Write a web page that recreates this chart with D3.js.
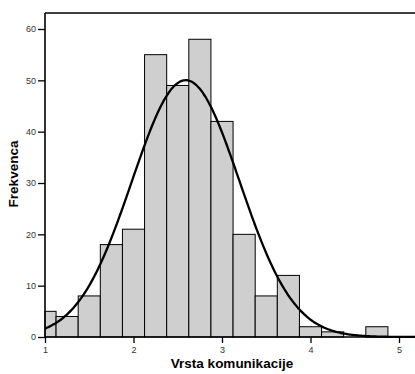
<!DOCTYPE html>
<html><head><meta charset="utf-8">
<script src="https://cdn.jsdelivr.net/npm/d3@7"></script>
<style>body{margin:0;background:#fff}svg{display:block;font-family:"Liberation Sans",Arial,sans-serif}</style>
</head><body>
<script>
const binCenters = [1.0,1.25,1.5,1.75,2.0,2.25,2.5,2.75,3.0,3.25,3.5,3.75,4.0,4.25,4.5,4.75];
const counts     = [5,4,8,18,21,55,49,58,42,20,8,12,2,1,0,2];
const binWidth = 0.25;
const fitMean = 2.59, fitSd = 0.608, fitN = 305;
const xTicks = [1,2,3,4,5];
const yTicks = [0,10,20,30,40,50,60];

const W=415,H=374;
const svg=d3.select("body").append("svg").attr("width",W).attr("height",H);
const x=d3.scaleLinear().domain([1,5]).range([45,399]);
const y=d3.scaleLinear().domain([0,60]).range([337,29]);
const xMin=1, xMax=x.invert(W);

// bars
svg.append("g").selectAll("rect").data(binCenters.map((c,i)=>({c,v:counts[i]})).filter(d=>d.v>0))
 .join("rect")
 .attr("x",d=>x(Math.max(xMin,d.c-binWidth/2)))
 .attr("width",d=>x(d.c+binWidth/2)-x(Math.max(xMin,d.c-binWidth/2)))
 .attr("y",d=>y(d.v)).attr("height",d=>y(0)-y(d.v))
 .attr("fill","#cfcfcf").attr("stroke","#000").attr("stroke-width",1);

// normal curve
const pts=d3.range(0,301).map(i=>xMin+(xMax-xMin)*i/300);
const pdf=v=>fitN*binWidth/(fitSd*Math.sqrt(2*Math.PI))*Math.exp(-((v-fitMean)**2)/(2*fitSd*fitSd));
svg.append("path").datum(pts)
 .attr("d",d3.line().x(v=>x(v)).y(v=>y(pdf(v))).curve(d3.curveBasis))
 .attr("fill","none").attr("stroke","#000").attr("stroke-width",2.3);

// frame
svg.append("line").attr("x1",45).attr("x2",W).attr("y1",13).attr("y2",13).attr("stroke","#000").attr("stroke-width",1.6);
const xa=svg.append("g").attr("transform","translate(0,337)")
 .call(d3.axisBottom(x).tickValues(xTicks).tickSize(6).tickPadding(4).tickFormat(d3.format("d")));
xa.select(".domain").attr("d",`M45,0H${W}`).attr("stroke-width",1.6);
const ya=svg.append("g").attr("transform","translate(45,0)")
 .call(d3.axisLeft(y).tickValues(yTicks).tickSize(7).tickPadding(2).tickFormat(d3.format("d")));
ya.select(".domain").attr("d","M0,13V337").attr("stroke-width",1.6);
svg.selectAll(".tick line").attr("stroke","#000").attr("stroke-width",1.3);
svg.selectAll(".tick text").attr("font-size",9).attr("fill","#333").attr("font-family","Liberation Sans,Arial,sans-serif");

svg.append("text").attr("x",232).attr("y",368).attr("text-anchor","middle")
 .attr("font-size",13.5).attr("font-weight","bold").text("Vrsta komunikacije");
svg.append("text").attr("transform","translate(18,174) rotate(-90)").attr("text-anchor","middle")
 .attr("font-size",13.5).attr("font-weight","bold").text("Frekvenca");
</script>
</body></html>
